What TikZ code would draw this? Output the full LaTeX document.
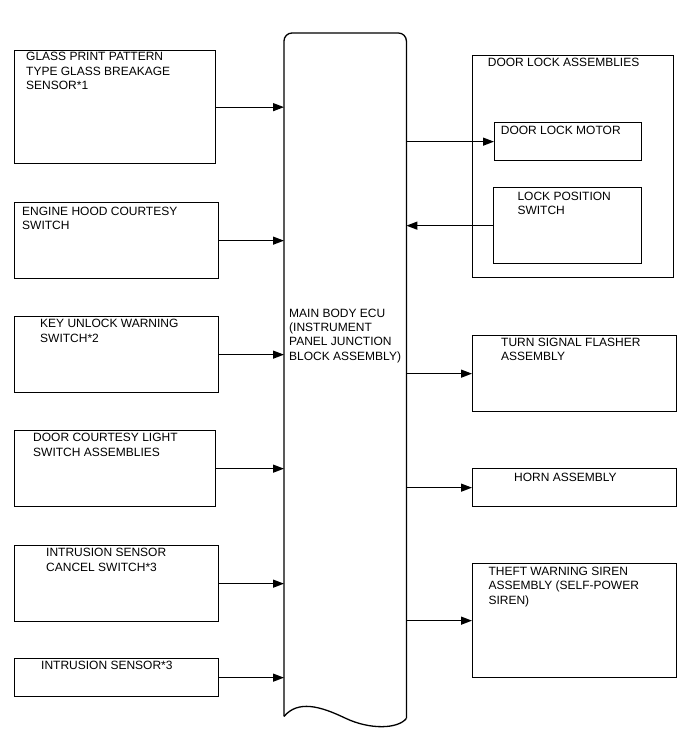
\documentclass[tikz,border=0pt]{standalone}
\usepackage{fontspec}
\setmainfont{Liberation Sans}
\usetikzlibrary{positioning,arrows.meta,calc}

\begin{document}
\begin{tikzpicture}[x=1pt,y=-1pt,font=\fontsize{12}{14.4}\selectfont,
  box/.style={draw,line width=1.3pt,rectangle,anchor=north west,inner sep=0pt,minimum width=204pt,minimum height=76pt},
  lbl/.style={anchor=north west,inner sep=0pt,align=left},
  sig/.style={line width=1.3pt,-{Triangle[length=11pt,width=8pt]}}]
\useasboundingbox (0,0) rectangle (688,755);
% ---------- main body ECU ----------
\node[anchor=north west,inner sep=0pt,minimum width=122pt,minimum height=683pt] (ecu) at (284,33) {};
\draw[line width=1.3pt,rounded corners=8pt] (ecu.south west) -- (ecu.north west) -- (ecu.north east) -- ($(ecu.south east)+(0,2)$);
\draw[line width=1.3pt] ($(ecu.south east)+(0,2)$) .. controls (398,729) and (370,730) .. (345,718)
  .. controls (320,706) and (298,700) .. (ecu.south west);
\node[lbl] (ecuT) at (289,308.5) {MAIN BODY ECU\\(INSTRUMENT\\PANEL JUNCTION\\BLOCK ASSEMBLY)};
% ---------- inputs ----------
\node[box,minimum width=201pt,minimum height=113pt] (glass) at (14,50) {};
\node[lbl] (glassT) at (26,52.3) {GLASS PRINT PATTERN\\TYPE GLASS BREAKAGE\\SENSOR*1};
\node[box] (hood) at (14,202) {};
\node[lbl] (hoodT) at (22,207) {ENGINE HOOD COURTESY\\SWITCH};
\node[box] (key) at (14,316) {};
\node[lbl] (keyT) at (40,319.3) {KEY UNLOCK WARNING\\SWITCH*2};
\node[box,minimum width=201pt] (door) at (14,430) {};
\node[lbl] (doorT) at (33,433.3) {DOOR COURTESY LIGHT\\SWITCH ASSEMBLIES};
\node[box] (cancel) at (14,545) {};
\node[lbl] (cancelT) at (46,548.3) {INTRUSION SENSOR\\CANCEL SWITCH*3};
\node[box,minimum height=38pt] (intr) at (14,658) {};
\node[lbl] (intrT) at (41,661) {INTRUSION SENSOR*3};
\foreach \n in {glass,hood,key,door,cancel,intr}{\draw[sig] (\n.east) -- (\n.east -| ecu.west);}
% ---------- outputs ----------
\node[box,minimum width=201pt,minimum height=222pt] (dla) at (472,55) {};
\node[lbl] (dlaT) at (487.7,58.3) {DOOR LOCK ASSEMBLIES};
\node[box,minimum width=147pt,minimum height=38pt] (motor) at (494,122) {};
\node[lbl] (motorT) at (500.7,126) {DOOR LOCK MOTOR};
\node[box,minimum width=148pt] (pos) at (493,187) {};
\node[lbl] (posT) at (517.3,191.7) {LOCK POSITION\\SWITCH};
\node[box] (turn) at (472,335) {};
\node[lbl] (turnT) at (501,337.7) {TURN SIGNAL FLASHER\\ASSEMBLY};
\node[box,minimum height=38pt] (horn) at (472,468) {};
\node[lbl] (hornT) at (514,472.7) {HORN ASSEMBLY};
\node[box,minimum height=114pt] (siren) at (472,563) {};
\node[lbl] (sirenT) at (488.3,566.7) {THEFT WARNING SIREN\\ASSEMBLY (SELF-POWER\\SIREN)};
\foreach \n in {motor,turn,horn,siren}{\draw[sig] (\n.west -| ecu.east) -- (\n.west);}
\draw[sig] (pos.west) -- (pos.west -| ecu.east);
\end{tikzpicture}
\end{document}
